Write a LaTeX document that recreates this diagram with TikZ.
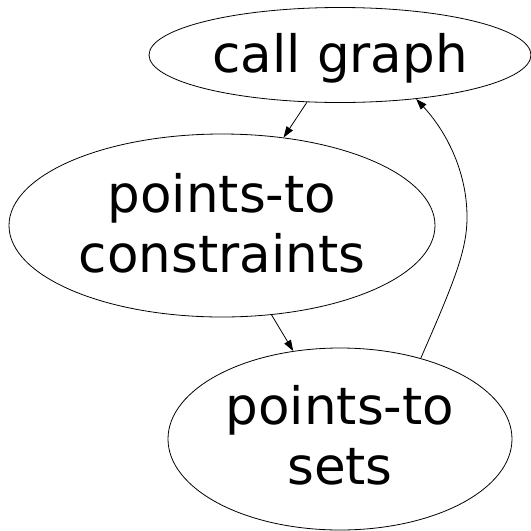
\documentclass[tikz,border=0pt]{standalone}
\usepackage{fontspec}
\setmainfont{DejaVu Sans}
\usetikzlibrary{shapes.geometric,arrows.meta}

\begin{document}
\begin{tikzpicture}[x=1pt,y=-1pt,
  state/.style={ellipse,draw=black,line width=0.8pt,inner sep=0pt},
  txt/.style={anchor=base,inner sep=0pt,font=\fontsize{51.5}{60}\selectfont},
  edge/.style={draw=black,line width=0.8pt,-{Triangle[length=11pt,width=7.5pt]}}]
  \useasboundingbox (0,0) rectangle (531,531);

  % the three stages
  \node[state,minimum width=382pt,minimum height=95pt] (cg) at (340,55) {};
  \node[state,minimum width=426pt,minimum height=183pt] (pc) at (222,225.5) {};
  \node[state,minimum width=344pt,minimum height=182pt] (ps) at (340,439) {};

  % labels
  \node[txt] (cgA) at (340,72) {call graph};
  \node[txt] (pcA) at (222,212) {points-to};
  \node[txt] (pcB) at (222,272) {constraints};
  \node[txt] (psA) at (340,424) {points-to};
  \node[txt] (psB) at (340,484) {sets};

  % edges
  \draw[edge] (cg.235.5) -- (pc.55.1);
  \draw[edge] (pc.299.2) -- (ps.118.3);
  \draw[edge] (ps.45.7) .. controls (455,280) and (467,250) .. (467,217)
                         .. controls (467,170) and (445,130) .. (cg.330.3);
\end{tikzpicture}
\end{document}
